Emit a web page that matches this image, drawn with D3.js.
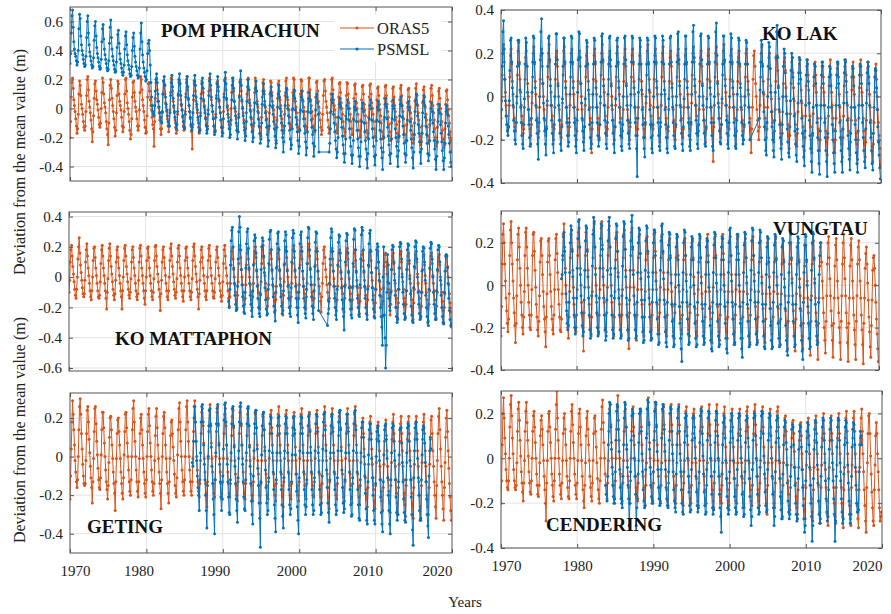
<!DOCTYPE html>
<html>
<head>
<meta charset="utf-8">
<script src="https://cdn.jsdelivr.net/npm/d3@7"></script>
<style>
  body { margin: 0; background: #fff; }
</style>
</head>
<body>
<div id="chart"></div>
<script>
const _ = null;

// Stations and series
const stations = ["POM PHRACHUN", "KO LAK", "KO MATTAPHON", "VUNGTAU", "GETING", "CENDERING"];
const seriesNames = ["ORAS5", "PSMSL"];

// Axis limits and tick labels
const xLimits = [1970, 2020];
const xTicks = [1970, 1980, 1990, 2000, 2010, 2020];
const yLimits = [[-0.5, 0.7], [-0.4, 0.4], [-0.62, 0.43], [-0.4, 0.35], [-0.5, 0.33], [-0.4, 0.3]];
const yTicks = [
    [-0.4, -0.2, 0, 0.2, 0.4, 0.6],
    [-0.4, -0.2, 0, 0.2, 0.4],
    [-0.6, -0.4, -0.2, 0, 0.2, 0.4],
    [-0.4, -0.2, 0, 0.2],
    [-0.4, -0.2, 0, 0.2],
    [-0.4, -0.2, 0, 0.2]
];

// Monthly deviation from the mean, in cm, one row per year
const oras5Start = 1970;
const psmslStart = [1970, 1970, 1990, 1978, 1986, 1983];

const oras5PomPhrachun = [
    -20,-9,8,18,21,14,6,2,-2,-7,-12,-17,
    -14,-4,10,19,16,9,3,0,-4,-9,-13,-15,
    -12,-2,9,20,22,13,5,1,-3,-8,-14,-23,
    -16,-5,7,17,19,12,6,3,-1,-6,-11,-13,
    -10,0,11,21,18,10,4,1,-3,-9,-14,-18,
    -25,-10,6,16,20,14,7,2,-2,-7,-13,-19,
    -15,-3,9,19,17,10,5,2,-1,-6,-12,-16,
    -13,-2,10,20,21,12,4,0,-4,-9,-15,-21,
    -18,-7,8,18,19,11,5,1,-2,-7,-12,-15,
    -12,-1,11,22,20,13,6,2,-2,-8,-13,-17,
    -16,-5,8,17,18,12,6,2,-1,-6,-11,-14,
    -26,-9,7,18,21,13,5,1,-3,-8,-14,-18,
    -14,-3,10,19,17,10,4,1,-2,-7,-12,-16,
    -12,-1,11,21,20,12,5,1,-3,-8,-13,-17,
    -15,-4,9,18,19,12,6,2,-1,-6,-12,-15,
    -13,-2,10,20,22,13,6,2,-2,-7,-12,-16,
    -28,-11,6,17,19,12,5,1,-3,-8,-13,-17,
    -14,-3,10,19,18,11,5,2,-1,-6,-11,-15,
    -12,-1,12,21,20,13,6,2,-2,-7,-12,-16,
    -15,-4,9,18,19,12,5,1,-3,-8,-13,-16,
    -13,-2,10,20,21,13,6,2,-1,-6,-11,-14,
    -11,0,11,21,19,12,5,1,-2,-7,-12,-15,
    -16,-4,9,19,20,12,5,1,-3,-8,-13,-17,
    -14,-3,10,20,21,13,6,2,-2,-7,-12,-15,
    -12,-1,11,21,19,12,5,1,-3,-8,-13,-18,
    -19,-6,8,18,20,12,5,1,-2,-7,-12,-16,
    -14,-3,10,19,18,11,5,2,-1,-6,-11,-15,
    -22,-8,7,17,19,12,6,2,-2,-7,-12,-17,
    -15,-4,9,19,21,13,6,2,-1,-6,-11,-14,
    -12,-1,11,21,20,12,5,1,-3,-8,-13,-16,
    -14,-3,10,20,19,12,5,1,-2,-7,-12,-15,
    -13,-2,11,21,21,13,6,2,-2,-7,-12,-16,
    -16,-5,8,18,19,12,5,1,-3,-8,-13,-18,
    -15,-4,9,19,20,12,5,1,-3,-8,-13,-17,
    -14,-3,10,20,21,13,6,2,-1,-6,-11,-15,
    -17,-6,8,17,18,11,4,0,-4,-9,-14,-19,
    -16,-5,9,18,17,10,4,0,-4,-9,-14,-18,
    -18,-7,7,16,17,10,4,0,-4,-9,-15,-20,
    -19,-8,6,15,16,10,3,-1,-5,-10,-15,-20,
    -17,-6,8,16,17,10,4,0,-4,-9,-14,-19,
    -20,-9,6,14,15,9,3,-1,-5,-10,-16,-21,
    -19,-8,7,15,16,9,3,-2,-6,-11,-16,-22,
    -21,-10,5,14,15,8,2,-2,-6,-11,-17,-23,
    -20,-9,6,14,16,9,2,-2,-7,-12,-18,-23,
    -22,-11,4,13,14,8,1,-3,-7,-12,-18,-24,
    -21,-10,5,14,17,9,2,-3,-8,-13,-19,-25,
    -23,-12,4,13,15,8,1,-4,-8,-13,-19,-24,
    -22,-11,5,14,16,9,2,-3,-8,-14,-20,-26,
    -24,-13,3,12,14,7,0,-4,-9,-15,-21,-27,
    -25,-14,3,12,13,6,-1,-5,-10,-16,-22,-30
];

const psmslPomPhrachun = [
    31,38,52,64,68,56,46,41,38,36,33,30,
    32,40,55,65,62,50,44,40,37,34,31,29,
    30,36,49,60,64,52,44,39,36,33,30,28,
    29,35,47,57,60,50,42,38,35,32,29,27,
    28,34,46,55,58,48,41,37,34,31,28,26,
    27,33,45,56,61,49,41,36,33,30,27,25,
    26,32,42,51,54,45,38,34,31,28,25,23,
    25,30,41,50,53,44,37,33,30,27,24,22,
    23,29,40,49,52,43,36,32,29,26,23,21,
    22,28,41,52,59,46,37,32,28,25,22,19,
    20,26,38,45,47,40,30,18,8,2,-2,-4,
    -5,2,12,20,24,18,10,5,1,-3,-6,-9,
    -10,-2,10,19,22,16,8,3,-1,-5,-9,-12,
    -12,-3,9,18,23,15,7,2,-2,-6,-10,-14,
    -11,-2,10,20,24,17,9,3,-1,-5,-9,-13,
    -14,-4,8,18,22,15,7,2,-2,-6,-11,-15,
    -13,-3,9,19,23,16,8,3,-1,-6,-10,-16,
    -15,-5,7,17,21,14,6,1,-3,-7,-12,-17,
    -14,-4,9,19,24,16,8,2,-2,-7,-12,-18,
    -16,-6,7,17,22,15,6,1,-3,-8,-13,-19,
    -17,-7,8,19,25,17,7,1,-4,-9,-14,-20,
    -18,-8,6,16,21,14,5,0,-5,-10,-15,-21,
    -16,-6,8,18,26,16,6,0,-5,-10,-15,-22,
    -19,-9,5,15,20,13,4,-1,-6,-11,-16,-23,
    -20,-10,4,14,19,12,3,-2,-7,-12,-17,-24,
    -21,-10,3,12,17,10,2,-3,-8,-13,-18,-26,
    -22,-12,2,11,15,9,1,-4,-9,-14,-19,-27,
    -24,-13,1,10,16,8,0,-5,-10,-15,-20,-30,
    -23,-12,2,11,14,8,0,-5,-10,-15,-21,-28,
    -25,-14,0,9,13,7,-1,-6,-11,-16,-22,-31,
    -26,-15,-1,8,12,6,-2,-7,-12,-17,-23,-32,
    -27,-16,-2,7,11,5,-3,-8,-13,-18,-24,-33,
    -26,-15,-1,8,10,4,-4,-30,_,_,_,_,
    _,_,_,_,_,_,_,_,_,_,_,-30,
    -24,-14,-2,6,10,4,-4,-10,-16,-22,-28,-34,
    -30,-20,-6,3,7,1,-7,-13,-19,-25,-31,-37,
    -31,-21,-7,2,6,0,-8,-14,-20,-26,-32,-38,
    -32,-22,-8,1,5,-1,-9,-15,-21,-27,-33,-40,
    -33,-23,-9,0,4,-2,-10,-16,-22,-28,-35,-41,
    -31,-21,-7,2,6,0,-8,-14,-20,-26,-33,-39,
    -32,-22,-8,1,5,-1,-9,-15,-21,-27,-34,-42,
    -30,-20,-6,3,7,1,-7,-13,-19,-25,-32,-38,
    -31,-21,-7,2,6,0,-8,-14,-20,-26,-33,-40,
    -29,-19,-5,3,8,2,-6,-12,-18,-24,-31,-37,
    -32,-22,-8,1,5,-1,-9,-15,-21,-27,-34,-41,
    -30,-18,-2,6,10,3,-5,-11,-17,-23,-30,-38,
    -28,-17,-3,5,9,2,-6,-12,-18,-24,-31,-36,
    -32,-22,-8,0,4,-2,-10,-16,-22,-28,-35,-42,
    -33,-23,-9,-1,3,-3,-11,-17,-23,-29,-36,-42,
    -34,-24,-10,-2,2,-4,-12,-18,-24,-30,-37,-40
];

const oras5KoLak = [
    -10,-2,10,20,24,16,8,2,-4,-9,-13,-15,
    -14,-4,9,19,22,15,7,1,-5,-10,-14,-16,
    -12,-3,10,21,25,16,8,2,-4,-9,-13,-17,
    -15,-5,8,18,21,14,6,0,-6,-11,-15,-18,
    -13,-3,9,20,23,15,7,1,-5,-10,-14,-19,
    -16,-5,8,19,22,14,6,0,-6,-11,-15,-18,
    -14,-4,9,20,24,16,8,2,-4,-9,-14,-20,
    -15,-5,8,18,21,14,6,0,-6,-11,-16,-19,
    -13,-3,10,21,23,15,7,1,-5,-10,-14,-18,
    -14,-4,9,20,22,15,7,1,-5,-10,-15,-20,
    -16,-6,7,18,21,14,6,0,-6,-11,-16,-19,
    -14,-4,9,19,23,15,7,1,-5,-10,-15,-26,
    -15,-5,8,19,22,15,7,1,-5,-10,-15,-19,
    -13,-3,10,20,24,16,8,2,-4,-9,-14,-18,
    -15,-5,8,18,21,14,6,0,-6,-11,-16,-20,
    -14,-4,9,20,23,15,7,1,-5,-10,-15,-19,
    -16,-6,7,18,22,14,6,0,-6,-11,-16,-20,
    -14,-4,9,19,22,15,7,1,-5,-10,-15,-18,
    -15,-5,8,19,23,15,7,1,-5,-10,-15,-19,
    -13,-3,10,21,24,16,8,2,-4,-9,-14,-18,
    -15,-5,8,19,22,15,7,1,-5,-10,-15,-21,
    -14,-4,9,20,23,15,7,1,-5,-10,-15,-19,
    -16,-6,7,18,21,14,6,0,-6,-11,-16,-20,
    -14,-4,9,19,22,15,7,1,-5,-10,-15,-19,
    -15,-5,8,19,22,15,7,1,-5,-10,-15,-20,
    -13,-3,10,20,23,16,8,2,-4,-9,-14,-18,
    -16,-6,7,18,21,14,6,0,-6,-11,-16,-21,
    -15,-5,8,19,22,15,7,1,-5,-10,-16,-30,
    -14,-4,9,20,23,15,7,1,-5,-10,-15,-19,
    -13,-3,10,21,24,16,8,2,-4,-9,-14,-18,
    -15,-5,8,19,22,15,7,1,-5,-10,-15,-22,
    -16,-6,7,18,21,14,6,0,-6,-11,-16,-20,
    -14,-4,9,20,22,15,7,1,-5,-10,-15,-26,
    -15,-5,8,19,21,14,6,0,-6,-11,-16,-20,
    -14,-4,9,20,23,15,7,1,-5,-10,-15,-19,
    -15,-5,8,18,20,13,5,-1,-7,-12,-17,-21,
    -16,-6,7,17,19,12,5,-1,-7,-12,-17,-22,
    -17,-7,6,16,18,12,4,-2,-8,-13,-18,-24,
    -18,-8,6,16,18,11,4,-2,-8,-13,-18,-23,
    -17,-7,6,15,17,11,3,-3,-9,-14,-19,-25,
    -19,-9,5,14,17,10,3,-3,-9,-14,-20,-26,
    -18,-8,5,15,16,10,2,-4,-10,-15,-20,-25,
    -20,-10,4,14,16,9,2,-4,-10,-16,-21,-27,
    -19,-9,5,14,17,10,2,-4,-10,-15,-21,-26,
    -20,-10,4,13,16,9,1,-5,-11,-16,-22,-28,
    -19,-9,5,14,17,10,2,-4,-10,-16,-21,-27,
    -21,-11,3,13,16,9,1,-5,-11,-17,-22,-29,
    -20,-10,4,14,17,10,2,-4,-10,-16,-22,-28,
    -21,-11,3,13,16,9,1,-5,-11,-17,-23,-30,
    -22,-12,2,12,15,8,0,-6,-12,-18,-24,-32
];

const psmslKoLak = [
    -20,-6,14,30,35,22,8,-2,-9,-13,-16,-18,
    -14,-2,12,26,27,16,4,-4,-11,-16,-20,-22,
    -12,0,14,26,26,15,3,-5,-12,-18,-22,-24,
    -13,-1,15,27,25,14,2,-6,-13,-19,-23,-22,
    -10,2,16,28,27,16,4,-4,-11,-17,-22,-29,
    -12,0,17,30,36,20,6,-3,-10,-16,-22,-27,
    -15,-2,14,27,28,17,5,-4,-11,-17,-22,-26,
    -13,0,15,29,29,17,5,-4,-11,-17,-22,-25,
    -14,-1,14,27,27,16,4,-5,-12,-18,-23,-21,
    -12,1,16,28,27,16,4,-5,-12,-18,-23,-26,
    -11,2,17,30,29,18,6,-3,-10,-16,-21,-25,
    -14,-1,14,26,25,15,3,-6,-13,-19,-24,-22,
    -12,1,15,27,26,16,4,-5,-12,-18,-23,-20,
    -13,0,16,28,29,17,5,-4,-11,-17,-22,-24,
    -12,1,15,27,28,17,5,-4,-11,-17,-22,-26,
    -14,-1,14,26,27,16,4,-5,-12,-18,-23,-25,
    -13,0,15,27,28,17,5,-4,-11,-17,-22,-24,
    -12,1,16,28,27,16,4,-5,-12,-18,-24,-37,
    -10,2,15,27,26,15,3,-6,-13,-19,-24,-28,
    -12,0,15,27,26,15,3,-6,-13,-19,-24,-26,
    -13,0,16,28,27,16,4,-5,-12,-18,-23,-25,
    -12,1,16,28,26,15,3,-6,-13,-19,-24,-26,
    -14,-1,15,27,28,16,4,-5,-12,-18,-23,-24,
    -13,0,16,29,30,17,5,-4,-11,-17,-22,-25,
    -14,-1,15,28,28,16,4,-5,-12,-18,-23,-25,
    -12,1,16,30,33,18,5,-4,-11,-17,-22,-24,
    -13,0,15,28,29,17,5,-4,-11,-17,-22,-23,
    -14,-1,15,28,27,16,4,-5,-12,-18,-23,-25,
    -12,0,16,30,34,19,6,-3,-10,-16,-21,-22,
    -13,-1,15,28,28,17,5,-4,-11,-17,-22,-24,
    -12,0,16,29,27,16,4,-5,-12,-18,-23,-24,
    -11,1,16,27,26,15,4,-5,-12,-18,-22,-20,
    -13,0,15,26,25,15,3,-5,-12,-20,_,_,
    _,_,_,_,_,_,_,_,_,_,_,_,
    -10,3,16,26,24,14,2,-7,-14,-20,-25,-27,
    -12,0,14,25,23,13,2,-7,-14,-20,-25,-28,
    -11,2,18,30,33,18,4,-6,-13,-19,-24,-29,
    -13,0,14,22,20,11,0,-8,-15,-21,-26,-28,
    -14,-2,12,20,18,9,-1,-9,-16,-22,-27,-30,
    -15,-3,11,18,17,8,-2,-10,-17,-23,-28,-32,
    -16,-4,10,17,15,7,-3,-11,-18,-24,-30,-35,
    -17,-5,9,15,14,6,-4,-12,-19,-25,-31,-36,
    -16,-4,10,16,14,6,-4,-12,-19,-25,-30,-37,
    -17,-5,9,14,13,5,-5,-13,-20,-26,-31,-35,
    -16,-4,10,16,15,6,-4,-12,-19,-25,-30,-35,
    -15,-3,11,17,16,7,-3,-11,-18,-24,-29,-34,
    -17,-5,9,14,13,5,-5,-13,-20,-26,-31,-35,
    -16,-4,10,15,14,6,-4,-12,-19,-25,-30,-33,
    -15,-3,11,16,14,6,-4,-12,-19,-25,-31,-34,
    -17,-5,9,13,12,4,-6,-14,-21,-27,-33,-38
];

const oras5KoMattaphon = [
    -10,-2,10,18,21,14,7,2,-3,-8,-12,-14,
    -8,0,12,20,26,16,8,3,-2,-7,-11,-13,
    -11,-2,10,18,22,14,6,1,-4,-9,-13,-15,
    -9,0,11,19,20,13,6,1,-4,-9,-13,-14,
    -12,-3,9,18,21,14,6,1,-4,-9,-14,-21,
    -10,-1,11,19,22,14,7,2,-3,-8,-12,-15,
    -11,-2,10,18,20,13,6,1,-4,-9,-13,-21,
    -9,0,11,19,21,14,7,2,-3,-8,-12,-14,
    -10,-1,10,18,20,13,6,1,-4,-9,-13,-15,
    -11,-2,10,19,21,14,6,1,-4,-9,-14,-18,
    -9,0,11,19,20,13,6,1,-4,-9,-13,-15,
    -10,-1,11,20,21,14,7,2,-3,-8,-13,-22,
    -11,-2,10,18,20,13,6,1,-4,-9,-13,-15,
    -9,0,11,19,22,14,7,2,-3,-8,-12,-14,
    -10,-1,10,19,21,14,6,1,-4,-9,-13,-16,
    -9,0,11,19,20,13,6,1,-4,-9,-13,-15,
    -10,-1,11,20,22,14,7,2,-3,-8,-13,-21,
    -11,-2,10,18,20,13,6,1,-4,-9,-13,-15,
    -9,0,11,19,21,14,6,1,-4,-9,-13,-14,
    -10,-1,10,18,20,13,6,1,-4,-9,-13,-16,
    -12,-3,9,18,21,14,6,1,-4,-9,-14,-19,
    -13,-4,8,17,19,12,5,0,-5,-10,-15,-20,
    -12,-3,9,18,21,13,5,0,-5,-10,-15,-18,
    -14,-5,8,16,18,12,5,0,-5,-10,-15,-20,
    -13,-4,9,17,20,13,5,0,-5,-10,-15,-21,
    -12,-3,9,18,21,13,6,1,-4,-9,-14,-19,
    -14,-5,8,16,18,12,4,-1,-6,-11,-16,-22,
    -15,-6,7,16,19,12,4,-1,-6,-11,-17,-25,
    -12,-3,9,18,20,13,5,0,-5,-10,-15,-19,
    -13,-4,9,18,21,13,5,0,-5,-10,-15,-20,
    -14,-5,8,17,20,12,4,-1,-6,-11,-16,-21,
    -13,-4,9,18,22,14,6,0,-5,-10,-15,-20,
    -14,-5,8,17,19,12,4,-1,-6,-11,-16,-23,
    -13,-4,9,18,20,13,5,0,-5,-10,-15,-21,
    -14,-5,8,17,19,12,4,-1,-6,-11,-16,-22,
    -15,-6,7,16,18,11,4,-1,-6,-11,-17,-23,
    -14,-5,8,17,19,12,4,-1,-6,-11,-16,-21,
    -15,-6,7,16,18,11,3,-2,-7,-12,-17,-24,
    -16,-7,7,15,17,11,3,-2,-7,-12,-18,-25,
    -15,-6,7,16,18,11,3,-2,-7,-12,-17,-23,
    -17,-8,6,15,17,10,2,-3,-8,-13,-18,-26,
    -16,-7,7,15,16,10,2,-3,-8,-14,-19,-25,
    -18,-9,5,14,16,9,2,-4,-9,-14,-20,-27,
    -17,-8,6,15,17,10,2,-3,-8,-14,-19,-26,
    -18,-9,5,14,16,9,1,-4,-9,-15,-20,-28,
    -17,-8,6,15,17,10,2,-4,-9,-14,-20,-27,
    -19,-10,5,14,15,8,1,-4,-10,-15,-21,-29,
    -18,-9,5,14,16,9,1,-4,-9,-15,-21,-28,
    -19,-10,4,13,15,8,0,-5,-10,-16,-22,-30,
    -20,-11,4,13,14,7,0,-5,-11,-17,-23,-33
];

const psmslKoMattaphon = [
    _,_,_,_,_,_,_,_,_,_,-16,-20,
    -8,8,24,31,33,20,6,-4,-12,-18,-22,-21,
    -6,12,30,40,33,18,5,-5,-13,-19,-23,-24,
    -10,6,22,30,32,19,6,-4,-12,-18,-22,-26,
    -9,8,24,28,26,16,4,-6,-14,-20,-24,-26,
    -11,5,20,26,24,14,3,-7,-15,-21,-25,-24,
    -8,9,25,30,31,18,5,-5,-13,-19,-23,-29,
    -10,6,22,29,30,18,5,-5,-13,-19,-24,-22,
    -9,8,24,30,28,17,4,-6,-14,-20,-24,-26,
    -7,10,26,31,29,17,4,-6,-14,-20,-25,-30,
    -10,6,22,28,30,17,4,-6,-14,-20,-24,-27,
    -8,9,26,33,32,18,5,-5,-13,-19,-24,-28,
    -9,7,23,30,29,17,4,-22,_,_,_,_,
    _,_,_,_,_,_,_,_,_,-32,-24,-16,
    -4,12,26,32,30,17,4,-6,-14,-20,-25,-28,
    -8,8,23,28,27,16,3,-7,-15,-21,-26,-35,
    -6,10,24,29,28,16,3,-7,-15,-21,-25,-27,
    -7,9,25,32,31,18,4,-6,-14,-20,-25,-26,
    -5,12,28,33,31,18,4,-6,-14,-20,-24,-28,
    -8,8,22,29,31,17,3,-7,-15,-21,-26,-27,
    -8,6,18,22,20,10,-2,-12,-20,-26,-33,-45,
    0,20,-25,-40,-60,-45,-10,15,8,-4,-14,-22,
    -10,5,18,21,20,10,-2,-12,-20,-26,-30,-28,
    -8,6,20,23,22,12,0,-10,-18,-24,-28,-27,
    -9,5,18,22,21,11,-1,-11,-19,-25,-29,-30,
    -7,7,20,24,23,12,0,-10,-18,-24,-28,-26,
    -10,4,17,20,19,10,-2,-12,-20,-26,-30,-32,
    -8,6,19,23,22,12,0,-10,-18,-24,-28,-27,
    -9,5,18,21,20,10,-2,-12,-20,-26,-30,-31,
    -10,4,14,15,14,6,-4,-14,-22,-28,-32,-31
];

const oras5Vungtau = [
    -24,-10,10,24,29,20,10,2,-6,-12,-18,-22,
    -16,-4,14,26,30,20,10,2,-6,-13,-19,-27,
    -18,-5,12,24,27,18,8,0,-8,-14,-20,-23,
    -15,-3,14,25,27,18,8,0,-8,-14,-20,-21,
    -14,-2,14,24,25,16,7,-1,-9,-15,-21,-24,
    -17,-5,11,21,22,14,5,-3,-10,-16,-22,-29,
    -15,-4,11,21,22,14,5,-3,-10,-16,-21,-23,
    -14,-2,12,22,24,15,6,-2,-9,-15,-21,-22,
    -16,-4,12,24,29,18,8,0,-8,-14,-20,-25,
    -15,-3,13,24,26,17,7,-1,-9,-15,-21,-22,
    -14,-2,14,25,27,18,8,0,-8,-14,-20,-31,
    -13,-1,14,25,27,17,7,-1,-9,-15,-21,-24,
    -15,-3,13,26,29,18,8,0,-8,-14,-20,-23,
    -14,-2,14,27,30,19,8,0,-8,-14,-20,-22,
    -13,-1,14,26,28,18,8,0,-8,-14,-20,-24,
    -15,-3,12,23,25,16,6,-2,-9,-15,-21,-23,
    -14,-2,13,24,26,17,7,-1,-9,-15,-21,-30,
    -13,-1,14,25,27,17,7,-1,-9,-15,-21,-26,
    -14,-2,13,23,24,15,6,-2,-9,-15,-21,-24,
    -15,-3,12,22,23,15,6,-2,-9,-15,-21,-25,
    -14,-2,13,24,26,16,6,-2,-9,-15,-21,-23,
    -13,-1,13,23,24,15,6,-2,-9,-15,-21,-24,
    -14,-2,12,21,22,14,5,-3,-10,-16,-22,-25,
    -13,-1,13,22,23,14,5,-3,-10,-16,-21,-23,
    -14,-2,12,21,22,14,5,-3,-10,-16,-21,-24,
    -13,-1,12,20,21,13,4,-4,-11,-17,-22,-24,
    -14,-2,11,20,22,13,4,-4,-11,-17,-22,-25,
    -15,-3,11,21,24,14,5,-3,-10,-16,-22,-27,
    -13,-1,13,22,23,14,5,-3,-10,-16,-22,-26,
    -14,-2,12,22,24,15,5,-3,-10,-16,-22,-25,
    -15,-3,11,21,23,14,5,-3,-10,-16,-22,-28,
    -14,-2,12,22,24,15,5,-3,-10,-16,-22,-25,
    -15,-3,11,20,22,13,4,-4,-11,-17,-23,-27,
    -14,-2,12,21,23,14,5,-3,-10,-16,-22,-26,
    -15,-3,11,20,21,13,4,-4,-11,-17,-23,-27,
    -16,-4,10,20,22,13,4,-4,-11,-17,-23,-29,
    -15,-3,11,20,22,13,4,-4,-11,-17,-23,-28,
    -16,-4,10,19,21,12,3,-5,-12,-18,-24,-30,
    -17,-5,10,19,20,12,3,-5,-12,-18,-24,-31,
    -16,-4,10,18,20,12,3,-5,-12,-18,-24,-30,
    -18,-6,9,18,19,11,2,-6,-13,-19,-25,-33,
    -17,-5,10,19,21,12,3,-6,-13,-19,-26,-35,
    -18,-6,9,18,20,11,2,-6,-13,-20,-26,-32,
    -17,-5,10,20,23,13,3,-5,-12,-19,-26,-34,
    -18,-6,9,19,22,12,2,-6,-13,-20,-27,-35,
    -17,-5,10,20,24,13,3,-5,-13,-20,-27,-36,
    -18,-6,9,19,22,12,2,-6,-14,-21,-28,-35,
    -17,-5,10,18,21,12,2,-6,-14,-21,-28,-37,
    -18,-6,8,15,18,10,1,-7,-15,-22,-29,-34,
    -19,-7,7,13,14,8,0,-8,-16,-23,-30,-36
];

const psmslVungtau = [
    3,5,14,23,25,16,6,-4,-12,-18,-21,-19,
    -8,6,20,28,26,16,4,-6,-14,-20,-23,-20,
    -6,8,22,30,31,18,5,-5,-13,-19,-24,-22,
    -7,7,21,28,27,16,4,-6,-14,-21,-25,-23,
    -5,9,24,32,30,18,5,-5,-13,-20,-24,-22,
    -6,8,22,29,28,17,4,-6,-14,-21,-26,-24,
    -7,7,21,30,32,18,5,-5,-14,-21,-25,-23,
    -6,8,22,29,28,16,4,-6,-14,-21,-25,-24,
    -5,9,23,30,29,17,4,-6,-14,-21,-26,-25,
    -7,7,21,30,33,18,5,-5,-14,-21,-25,-24,
    -8,6,20,27,26,15,3,-7,-15,-22,-27,-26,
    -7,7,21,28,27,16,4,-6,-15,-22,-26,-25,
    -8,6,20,26,25,14,2,-8,-16,-23,-28,-27,
    -7,7,21,28,29,16,3,-7,-15,-22,-27,-29,
    -8,6,19,25,24,13,1,-9,-17,-24,-29,-28,
    -9,5,18,24,23,12,0,-10,-18,-25,-30,-36,
    -8,6,20,26,25,14,2,-8,-16,-23,-28,-27,
    -9,5,18,23,22,12,0,-10,-18,-25,-29,-28,
    -8,6,19,24,23,13,1,-9,-17,-24,-28,-27,
    -9,5,18,22,21,11,-1,-11,-19,-26,-30,-31,
    -8,6,19,25,24,13,1,-9,-17,-24,-29,-28,
    -9,5,18,23,22,12,0,-10,-18,-25,-30,-32,
    -8,6,20,26,27,14,2,-8,-16,-23,-28,-27,
    -9,5,18,24,23,12,0,-10,-18,-25,-30,-34,
    -8,6,19,25,24,13,1,-9,-17,-24,-29,-28,
    -7,7,21,27,26,14,2,-8,-16,-23,-28,-27,
    -8,6,20,26,25,13,1,-9,-17,-24,-29,-30,
    -9,5,18,23,22,11,-1,-11,-19,-26,-30,-29,
    -8,6,19,24,23,12,0,-10,-18,-25,-29,-28,
    -9,5,18,22,21,11,-1,-11,-19,-26,-31,-33,
    -8,6,20,26,24,13,1,-9,-17,-24,-29,-28,
    -9,5,18,23,22,11,-1,-11,-19,-26,-31,-35,
    -8,6,19,24,23,12,0,-10,-18,-25,-30,-29,
    -7,7,20,25,24,13,1,-9,-17,-24,-28,-27,
    -8,5,14,20
];

const oras5Geting = [
    -22,-10,4,18,29,22,14,6,-2,-8,-13,-16,
    -12,0,14,26,30,22,12,4,-4,-10,-14,-15,
    -14,-2,12,24,26,18,9,2,-5,-11,-16,-24,
    -13,-1,13,25,26,17,8,1,-6,-12,-16,-17,
    -11,1,14,23,23,15,7,0,-7,-13,-17,-22,
    -15,-3,10,20,21,14,6,-1,-8,-14,-19,-28,
    -13,-1,12,19,20,13,6,-1,-8,-14,-19,-22,
    -11,1,13,22,23,15,7,0,-7,-13,-18,-20,
    -12,0,14,25,29,18,8,0,-7,-13,-18,-21,
    -13,-1,12,20,22,14,6,-1,-8,-14,-19,-21,
    -12,0,13,22,25,16,7,0,-7,-13,-18,-20,
    -14,-2,11,21,25,15,6,-1,-8,-14,-19,-27,
    -12,0,12,21,23,15,6,-1,-8,-14,-19,-24,
    -13,-1,11,18,19,12,5,-2,-9,-15,-19,-21,
    -11,1,14,25,28,18,8,0,-7,-13,-18,-20,
    -12,0,14,26,29,18,8,0,-7,-13,-18,-20,
    -13,-1,13,26,29,18,8,0,-7,-13,-18,-21,
    -14,-2,12,23,25,16,7,-1,-8,-14,-19,-26,
    -13,-1,13,24,27,17,7,-1,-8,-14,-19,-21,
    -12,0,13,23,26,16,7,-1,-8,-14,-19,-22,
    -13,-1,12,22,25,16,6,-1,-8,-14,-19,-21,
    -14,-2,11,21,24,15,6,-2,-9,-15,-20,-23,
    -13,-1,12,23,26,16,6,-1,-8,-14,-19,-22,
    -14,-2,11,22,25,16,6,-2,-9,-15,-20,-23,
    -13,-1,12,22,24,15,6,-2,-9,-15,-20,-24,
    -14,-2,11,21,23,14,5,-2,-9,-15,-20,-22,
    -13,-1,12,22,24,15,6,-2,-9,-15,-20,-23,
    -14,-2,11,22,26,16,6,-2,-9,-15,-21,-26,
    -13,-1,12,22,24,15,6,-2,-9,-15,-20,-22,
    -14,-2,11,21,23,14,5,-2,-9,-15,-20,-23,
    -13,-1,12,22,25,15,6,-2,-9,-15,-20,-22,
    -14,-2,11,21,23,14,5,-2,-9,-15,-20,-21,
    -13,-1,12,22,24,15,5,-2,-9,-15,-21,-24,
    -14,-2,11,22,26,16,6,-2,-9,-16,-21,-27,
    -13,-1,12,22,25,15,6,-2,-9,-15,-20,-22,
    -14,-2,11,21,24,15,5,-2,-9,-16,-21,-23,
    -13,-1,12,22,25,15,6,-2,-9,-15,-21,-24,
    -14,-2,11,22,26,16,6,-2,-9,-16,-21,-25,
    -15,-3,10,18,20,12,4,-4,-11,-17,-22,-26,
    -16,-4,9,18,21,12,4,-4,-11,-17,-23,-27,
    -15,-3,9,16,18,11,3,-5,-12,-18,-23,-28,
    -16,-4,8,16,19,11,3,-5,-12,-18,-24,-29,
    -15,-3,9,18,22,12,3,-5,-12,-19,-24,-30,
    -16,-4,8,17,21,12,3,-5,-12,-19,-25,-31,
    -15,-3,9,18,21,12,3,-5,-12,-19,-25,-32,
    -16,-4,9,18,21,12,3,-5,-13,-20,-26,-33,
    -15,-3,9,18,22,12,3,-5,-13,-20,-26,-30,
    -16,-4,9,19,21,12,3,-5,-13,-20,-26,-32,
    -15,-2,12,21,25,14,4,-5,-13,-20,-27,-33,
    -16,-3,10,20,24,13,3,-6,-14,-21,-28,-33
];

const psmslGeting = [
    -3,-5,8,20,26,18,8,-2,-10,-16,-20,-28,
    -12,2,18,26,27,18,6,-4,-12,-20,-28,-37,
    -15,0,16,24,25,16,5,-5,-14,-22,-30,-40,
    -12,2,17,25,27,17,6,-4,-13,-21,-28,-22,
    -10,4,19,27,28,18,6,-4,-13,-21,-29,-30,
    -12,2,17,25,26,16,5,-5,-14,-22,-28,-34,
    -11,3,18,26,28,17,6,-4,-13,-21,-27,-28,
    -12,2,17,25,26,16,5,-5,-14,-23,-30,-35,
    -10,3,17,23,24,15,4,-6,-15,-24,-32,-47,
    -13,1,16,22,23,14,3,-7,-16,-24,-30,-28,
    -11,3,17,21,20,12,2,-8,-17,-25,-32,-39,
    -12,2,16,20,21,12,2,-8,-17,-25,-31,-37,
    -11,3,17,21,20,12,2,-8,-17,-25,-30,-27,
    -13,1,15,20,21,12,1,-9,-18,-26,-33,-40,
    -11,3,17,21,20,12,2,-8,-17,-25,-30,-26,
    -12,2,16,21,22,13,2,-8,-17,-25,-30,-28,
    -11,3,17,22,21,13,2,-8,-17,-25,-30,-29,
    -10,4,18,22,23,14,3,-7,-16,-24,-29,-34,
    -12,2,16,21,22,13,2,-8,-17,-25,-30,-28,
    -11,3,18,23,24,14,3,-7,-16,-24,-29,-27,
    -12,2,17,22,22,13,2,-8,-17,-25,-31,-30,
    -11,3,17,23,24,14,2,-8,-17,-25,-32,-33,
    -12,2,15,18,18,10,0,-10,-19,-27,-33,-35,
    -13,1,14,17,17,9,-1,-11,-20,-28,-33,-35,
    -14,0,13,15,16,8,-2,-12,-21,-29,-35,-39,
    -13,1,14,16,17,9,-1,-11,-20,-28,-35,-40,
    -12,2,15,17,16,8,-2,-12,-21,-29,-33,-30,
    -13,1,14,15,15,7,-3,-13,-22,-29,-33,-34,
    -12,2,15,17,16,8,-2,-12,-21,-30,-38,-46,
    -11,3,15,17,18,9,-1,-11,-20,-28,-33,-32,
    -12,1,14,16,15,7,-3,-13,-22,-30,-36,-42,
    -10,3,10,4
];

const oras5Cendering = [
    -20,-10,6,20,27,18,9,2,-5,-10,-13,-14,
    -10,0,14,24,28,19,9,2,-5,-10,-13,-14,
    -12,-2,12,22,25,17,8,1,-6,-11,-15,-19,
    -11,-1,12,21,25,16,8,1,-6,-11,-15,-16,
    -10,0,12,19,21,14,7,0,-7,-12,-16,-17,
    -12,-2,10,17,19,13,6,-1,-8,-14,-20,-28,
    -11,-1,12,20,21,14,7,0,-7,-12,-17,-19,
    -10,0,13,24,30,18,8,0,-7,-12,-16,-18,
    -11,-1,11,18,20,13,6,-1,-8,-13,-17,-18,
    -10,0,12,21,24,15,7,0,-7,-12,-16,-18,
    -11,-1,11,20,22,14,6,-1,-8,-14,-19,-22,
    -12,-2,10,18,21,13,6,-1,-8,-13,-17,-19,
    -11,-1,11,18,19,12,5,-2,-9,-14,-18,-20,
    -10,0,13,23,26,16,7,0,-7,-12,-16,-18,
    -11,-1,12,22,24,15,7,0,-7,-12,-17,-20,
    -10,0,13,23,28,17,8,0,-7,-12,-17,-19,
    -11,-1,12,21,22,14,6,-1,-8,-13,-18,-20,
    -10,0,12,21,23,14,6,-1,-8,-13,-17,-19,
    -11,-1,11,20,22,14,6,-1,-8,-13,-18,-21,
    -12,-2,11,22,27,16,7,0,-7,-13,-18,-20,
    -11,-1,12,22,25,15,6,-1,-8,-13,-18,-19,
    -12,-2,11,21,24,15,6,-1,-8,-14,-19,-21,
    -11,-1,12,22,24,15,6,-1,-8,-13,-18,-20,
    -12,-2,11,21,24,15,6,-1,-8,-14,-19,-21,
    -11,-1,12,21,23,14,6,-1,-8,-13,-18,-20,
    -12,-2,11,20,22,14,5,-2,-9,-14,-19,-21,
    -11,-1,12,21,23,14,6,-1,-8,-14,-19,-20,
    -12,-2,11,21,24,15,6,-1,-8,-14,-19,-22,
    -11,-1,12,21,24,15,6,-1,-8,-14,-19,-20,
    -12,-2,11,20,23,14,5,-2,-9,-14,-19,-21,
    -11,-1,12,20,22,14,5,-2,-9,-14,-19,-20,
    -12,-2,11,20,22,13,5,-2,-9,-15,-20,-22,
    -11,-1,12,21,23,14,5,-2,-9,-14,-19,-21,
    -12,-2,11,21,24,15,6,-1,-8,-14,-19,-21,
    -11,-1,12,21,23,14,5,-2,-9,-14,-20,-25,
    -12,-2,11,20,22,14,5,-2,-9,-15,-20,-22,
    -11,-1,12,21,23,14,5,-2,-9,-15,-20,-27,
    -12,-2,10,18,19,12,4,-3,-10,-16,-21,-23,
    -13,-3,9,16,17,11,3,-4,-11,-17,-22,-25,
    -14,-4,8,15,16,10,2,-5,-12,-18,-23,-27,
    -13,-3,9,16,18,10,2,-5,-12,-18,-24,-28,
    -14,-4,8,16,19,11,2,-5,-12,-19,-24,-29,
    -13,-3,9,17,20,11,2,-5,-13,-19,-25,-30,
    -14,-4,8,16,19,11,2,-5,-13,-20,-26,-29,
    -13,-3,9,17,20,11,2,-6,-13,-20,-26,-31,
    -14,-4,9,18,21,12,2,-6,-14,-21,-27,-30,
    -13,-3,9,18,21,12,2,-6,-14,-21,-27,-31,
    -14,-4,9,18,22,12,2,-6,-14,-21,-28,-33,
    -13,-2,11,19,20,11,1,-7,-15,-22,-28,-30,
    -14,-3,10,16,11,2,-6,-14,-22,-28,-26,-24
];

const psmslCendering = [
    _,_,_,_,_,_,_,_,_,-12,-16,-19,
    -8,6,20,25,24,14,4,-4,-12,-17,-20,-18,
    -6,8,21,24,23,13,3,-5,-13,-18,-20,-22,
    -8,6,18,25,24,14,4,-4,-12,-18,-30,-20,
    -6,8,19,22,20,10,0,-8,-16,-30,-22,-18,
    -7,7,20,22,21,12,2,-6,-14,-19,-22,-21,
    -5,9,22,26,25,15,4,-4,-12,-17,-20,-19,
    -6,8,21,25,24,14,3,-5,-13,-18,-21,-20,
    -5,9,22,24,23,13,3,-5,-13,-18,-21,-22,
    -6,8,20,23,22,12,2,-6,-14,-19,-22,-24,
    -7,6,18,22,23,12,2,-6,-14,-20,-24,-25,
    -6,7,18,20,19,10,0,-8,-15,-21,-24,-23,
    -5,8,18,19,18,9,0,-8,-15,-21,-24,-22,
    -6,7,19,22,21,11,1,-7,-15,-21,-25,-24,
    -5,8,18,21,20,10,0,-8,-16,-22,-25,-23,
    -6,7,17,21,20,10,0,-8,-16,-22,-26,-33,
    -7,6,16,19,18,9,-1,-9,-17,-22,-25,-23,
    -6,7,17,20,19,9,-1,-9,-17,-22,-25,-24,
    -5,8,18,20,19,10,0,-8,-16,-22,-26,-25,
    -6,7,17,19,18,9,-1,-9,-17,-23,-30,-26,
    -5,8,18,20,19,10,0,-8,-16,-22,-25,-24,
    -4,9,19,21,20,11,1,-7,-15,-21,-24,-23,
    -5,8,18,20,19,10,0,-8,-16,-22,-30,-26,
    -6,7,17,19,18,9,-1,-9,-17,-23,-27,-26,
    -7,6,14,17,16,7,-3,-11,-19,-24,-27,-25,
    -8,5,13,15,14,6,-4,-12,-20,-25,-28,-27,
    -9,4,12,15,14,5,-5,-13,-21,-27,-33,-30,
    -10,3,12,16,15,6,-4,-12,-20,-26,-37,-30,
    -9,4,13,17,16,7,-3,-11,-19,-25,-29,-27,
    -8,5,14,18,17,8,-2,-10,-18,-24,-28,-26,
    -9,4,13,18,17,8,-2,-10,-18,-25,-37,-28,
    -8,5,14,18,17,8,-2,-10,-18,-24,-29,-27,
    -7,6,14,17,16,7,-3,-11,-19,-25,-29,-25,
    -8,5,13,16,15,6,-4,-12,-20,-24,-24,-23,
    -6,6,12,10,6
];

const oras5 = [oras5PomPhrachun, oras5KoLak, oras5KoMattaphon, oras5Vungtau, oras5Geting, oras5Cendering];
const psmsl = [psmslPomPhrachun, psmslKoLak, psmslKoMattaphon, psmslVungtau, psmslGeting, psmslCendering];

// Layout of the six axes
const layout = [
    { left: 70,  right: 452, top: 7,   bottom: 181, label: [161, 37] },
    { left: 501, right: 881, top: 10,  bottom: 183, label: [762, 40] },
    { left: 69,  right: 452, top: 212, bottom: 371, label: [115, 345] },
    { left: 501, right: 879, top: 211, bottom: 370, label: [773, 235] },
    { left: 70,  right: 452, top: 393, bottom: 553, label: [87, 533], xLabelDx: -8 },
    { left: 501, right: 882, top: 391, bottom: 548, label: [546, 531], xLabelDx: 0 }
];

const font = '"Liberation Serif", "Times New Roman", Times, serif';
const colors = { ORAS5: "#D95319", PSMSL: "#0072BD" };
const fmt = d => Math.abs(d) < 1e-9 ? "0" : d.toFixed(1);

const svg = d3.select("#chart")
    .append("svg")
    .attr("width", 891)
    .attr("height", 614)
    .style("font-family", font);

stations.forEach((name, k) => {
    const L = layout[k];
    const x = d3.scaleLinear().domain(xLimits).range([L.left, L.right]);
    const y = d3.scaleLinear().domain(yLimits[k]).range([L.bottom, L.top]);
    const g = svg.append("g");

    // Grid
    g.append("g").selectAll("line")
        .data(xTicks.slice(1, -1))
        .join("line")
        .attr("x1", d => x(d)).attr("x2", d => x(d))
        .attr("y1", L.top).attr("y2", L.bottom)
        .attr("stroke", "#e3e3e3");

    g.append("g").selectAll("line")
        .data(yTicks[k])
        .join("line")
        .attr("x1", L.left).attr("x2", L.right)
        .attr("y1", d => y(d)).attr("y2", d => y(d))
        .attr("stroke", "#e3e3e3");

    // Clip
    svg.append("clipPath").attr("id", `clip${k}`)
        .append("rect")
        .attr("x", L.left).attr("y", L.top)
        .attr("width", L.right - L.left).attr("height", L.bottom - L.top);

    const plot = g.append("g").attr("clip-path", `url(#clip${k})`);

    const line = d3.line()
        .x(d => x(d.t))
        .y(d => y(d.v));

    [[oras5[k], oras5Start, "ORAS5"], [psmsl[k], psmslStart[k], "PSMSL"]].forEach(([vals, start, s]) => {
        const pts = vals
            .map((v, i) => ({ t: start + i / 12, v: v === null ? null : v / 100 }))
            .filter(d => d.v !== null);

        plot.append("path")
            .datum(pts)
            .attr("fill", "none")
            .attr("stroke", colors[s])
            .attr("stroke-width", 1)
            .attr("d", line);

        plot.append("g").selectAll("circle")
            .data(pts)
            .join("circle")
            .attr("cx", d => x(d.t))
            .attr("cy", d => y(d.v))
            .attr("r", 1.5)
            .attr("fill", colors[s]);
    });

    // Box
    g.append("rect")
        .attr("x", L.left).attr("y", L.top)
        .attr("width", L.right - L.left).attr("height", L.bottom - L.top)
        .attr("fill", "none")
        .attr("stroke", "#555")
        .attr("stroke-width", 1);

    // Axes (ticks inside, like MATLAB)
    const yAxis = g.append("g")
        .attr("transform", `translate(${L.left},0)`)
        .call(d3.axisLeft(y).tickValues(yTicks[k]).tickSize(-4).tickPadding(7).tickFormat(fmt));
    const yAxisR = g.append("g")
        .attr("transform", `translate(${L.right},0)`)
        .call(d3.axisRight(y).tickValues(yTicks[k]).tickSize(-4).tickFormat(""));

    const showX = k >= 4;
    const xAxis = g.append("g")
        .attr("transform", `translate(0,${L.bottom})`)
        .call(d3.axisBottom(x).tickValues(xTicks).tickSize(-4).tickPadding(12)
            .tickFormat(showX ? d3.format("d") : ""));
    const xAxisT = g.append("g")
        .attr("transform", `translate(0,${L.top})`)
        .call(d3.axisTop(x).tickValues(xTicks).tickSize(-4).tickFormat(""));

    [yAxis, yAxisR, xAxis, xAxisT].forEach(a => {
        a.select(".domain").remove();
        a.selectAll("line").attr("stroke", "#555");
        a.selectAll("text")
            .style("font-family", font)
            .style("font-size", "15px")
            .style("fill", "#222");
    });

    if (showX) {
        const first = xTicks[0];
        const last = xTicks[xTicks.length - 1];
        xAxis.selectAll("text")
            .attr("dx", d => d === first ? 5 : (d === last ? 0 : L.xLabelDx))
            .attr("text-anchor", d => d === last ? "end" : "middle");
    }

    // Station name
    g.append("text")
        .attr("x", L.label[0])
        .attr("y", L.label[1])
        .style("font-family", font)
        .style("font-size", "19px")
        .style("font-weight", "bold")
        .style("fill", "#111")
        .text(name);
});

// Legend in the first axes
const legend = svg.append("g");
legend.append("rect")
    .attr("x", 334).attr("y", 15)
    .attr("width", 108).attr("height", 47)
    .attr("fill", "#fff");

seriesNames.forEach((s, i) => {
    const row = legend.append("g").attr("transform", `translate(340, ${28 + i * 21})`);
    row.append("line")
        .attr("x1", 0).attr("x2", 34)
        .attr("y1", 0).attr("y2", 0)
        .attr("stroke", colors[s])
        .attr("stroke-width", 1.2);
    row.append("circle")
        .attr("cx", 17).attr("cy", 0).attr("r", 1.6)
        .attr("fill", colors[s]);
    row.append("text")
        .attr("x", 37).attr("y", 6)
        .style("font-family", font)
        .style("font-size", "16.5px")
        .style("fill", "#222")
        .text(s);
});

// Axis titles
[162, 430].forEach(cy => {
    svg.append("text")
        .attr("transform", `translate(25,${cy}) rotate(-90)`)
        .attr("text-anchor", "middle")
        .style("font-family", font)
        .style("font-size", "16px")
        .style("fill", "#222")
        .text("Deviation from the mean value (m)");
});

svg.append("text")
    .attr("x", 465)
    .attr("y", 607)
    .attr("text-anchor", "middle")
    .style("font-family", font)
    .style("font-size", "15px")
    .style("fill", "#222")
    .text("Years");
</script>
</body>
</html>
